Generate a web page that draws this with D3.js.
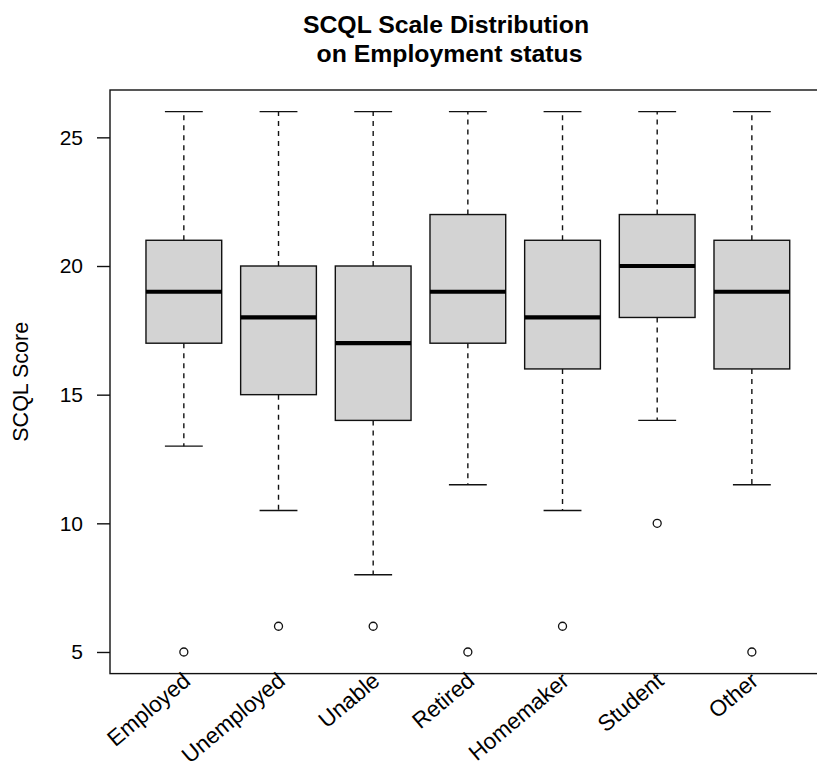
<!DOCTYPE html>
<html>
<head>
<meta charset="utf-8">
<script src="https://cdn.jsdelivr.net/npm/d3@7"></script>
<style>
  html, body { margin: 0; padding: 0; background: #fff; }
  svg { display: block; font-family: "Liberation Sans", Arial, Helvetica, sans-serif; }
</style>
</head>
<body>
<svg id="chart" width="817" height="765"></svg>
<script>
// Employment status groups and their box-and-whisker summaries (SCQL score)
const categories  = ["Employed", "Unemployed", "Unable", "Retired", "Homemaker", "Student", "Other"];
const whiskerLow  = [13, 10.5, 8, 11.5, 10.5, 14, 11.5];
const lowerQuart  = [17, 15, 14, 17, 16, 18, 16];
const medians     = [19, 18, 17, 19, 18, 20, 19];
const upperQuart  = [21, 20, 20, 22, 21, 22, 21];
const whiskerHigh = [26, 26, 26, 26, 26, 26, 26];
const outliers    = [[5], [6], [6], [5], [6], [10], [5]];
const yTicks      = [5, 10, 15, 20, 25];

const groups = categories.map((name, i) => ({
  name, pos: i + 1,
  lo: whiskerLow[i], q1: lowerQuart[i], med: medians[i], q3: upperQuart[i], hi: whiskerHigh[i],
  out: outliers[i]
}));

const svg = d3.select("#chart");
const plot = { left: 110, top: 90, right: 825.7, bottom: 673.6 };

// x runs over group positions 1..7 with half a slot either side plus 4% padding
const x = d3.scaleLinear().domain([0.22, 7.78]).range([plot.left, plot.right]);
const y = d3.scaleLinear().domain([4.16, 26.84]).range([plot.bottom, plot.top]);

const boxHalf = 0.4, capHalf = 0.2;
const ink = "#111";

// Whiskers (dashed) and caps
const g = svg.append("g");
groups.forEach(d => {
  g.append("line")
    .attr("x1", x(d.pos)).attr("x2", x(d.pos))
    .attr("y1", y(d.q3)).attr("y2", y(d.hi))
    .attr("stroke", ink).attr("stroke-width", 1.4).attr("stroke-dasharray", "5,5");
  g.append("line")
    .attr("x1", x(d.pos)).attr("x2", x(d.pos))
    .attr("y1", y(d.q1)).attr("y2", y(d.lo))
    .attr("stroke", ink).attr("stroke-width", 1.4).attr("stroke-dasharray", "5,5");
  [d.hi, d.lo].forEach(v => {
    g.append("line")
      .attr("x1", x(d.pos - capHalf)).attr("x2", x(d.pos + capHalf))
      .attr("y1", y(v)).attr("y2", y(v))
      .attr("stroke", ink).attr("stroke-width", 1.4);
  });
});

// Boxes
g.selectAll("rect.box").data(groups).join("rect")
  .attr("class", "box")
  .attr("x", d => x(d.pos - boxHalf))
  .attr("width", d => x(d.pos + boxHalf) - x(d.pos - boxHalf))
  .attr("y", d => y(d.q3))
  .attr("height", d => y(d.q1) - y(d.q3))
  .attr("fill", "#d3d3d3").attr("stroke", ink).attr("stroke-width", 1.4);

// Medians
g.selectAll("line.median").data(groups).join("line")
  .attr("class", "median")
  .attr("x1", d => x(d.pos - boxHalf)).attr("x2", d => x(d.pos + boxHalf))
  .attr("y1", d => y(d.med)).attr("y2", d => y(d.med))
  .attr("stroke", "#000").attr("stroke-width", 4.2);

// Outliers
groups.forEach(d => {
  g.selectAll(null).data(d.out).join("circle")
    .attr("cx", x(d.pos)).attr("cy", v => y(v)).attr("r", 4)
    .attr("fill", "none").attr("stroke", ink).attr("stroke-width", 1.3);
});

// Plot frame
svg.append("rect")
  .attr("x", plot.left).attr("y", plot.top)
  .attr("width", plot.right - plot.left).attr("height", plot.bottom - plot.top)
  .attr("fill", "none").attr("stroke", ink).attr("stroke-width", 1.4);

// Y axis
const yAxis = svg.append("g")
  .attr("transform", `translate(${plot.left},0)`)
  .call(d3.axisLeft(y).tickValues(yTicks).tickSize(13).tickPadding(14).tickFormat(d3.format("d")));
yAxis.select(".domain").remove();
yAxis.selectAll(".tick line").attr("stroke", ink).attr("stroke-width", 1.4);
yAxis.selectAll(".tick text").attr("fill", "#000").style("font-size", "21px")
  .style("font-family", "\"Liberation Sans\", Arial, sans-serif");

// Rotated category labels under the plot
svg.append("g").selectAll("text").data(groups).join("text")
  .attr("transform", d => `translate(${x(d.pos) + 8},${plot.bottom + 9.5}) rotate(-40)`)
  .attr("text-anchor", "end")
  .style("font-size", "22.5px")
  .text(d => d.name);

// Axis title
svg.append("text")
  .attr("transform", `translate(27.5,${(plot.top + plot.bottom) / 2}) rotate(-90)`)
  .attr("text-anchor", "middle")
  .style("font-size", "21.5px")
  .text("SCQL Score");

// Chart title (two lines)
const title = svg.append("text")
  .attr("text-anchor", "middle")
  .style("font-size", "24.8px").style("font-weight", "bold");
title.append("tspan").attr("x", 446).attr("y", 33).text("SCQL Scale Distribution");
title.append("tspan").attr("x", 449.5).attr("y", 62).text("on Employment status");
</script>
</body>
</html>
